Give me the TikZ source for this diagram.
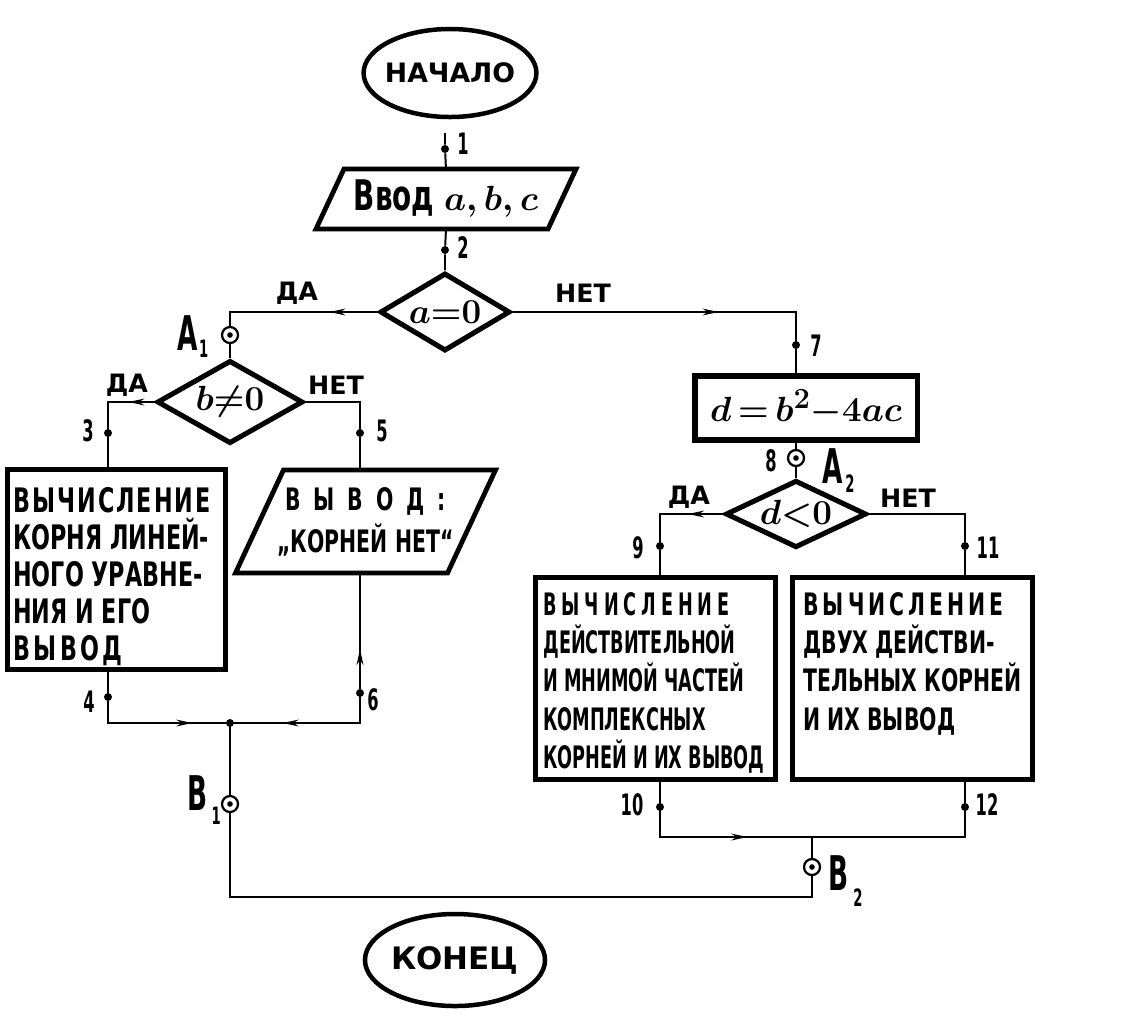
\documentclass[tikz,border=0pt]{standalone}
\usepackage{fontspec}
\setmainfont{DejaVu Sans}[FakeStretch=0.66]
\newfontfamily\widefont{DejaVu Sans}
\newfontfamily\condfont{DejaVu Sans}[FakeStretch=0.57]
\newfontfamily\narrowfont{DejaVu Sans}[FakeStretch=0.55]
\usetikzlibrary{arrows.meta,calc,positioning,shapes.geometric,decorations.markings}
\newcommand{\jsub}[3]{\kern#1pt\raisebox{-#2pt}{\fontsize{17}{17}\selectfont #3}}
\newcommand{\spaced}[2]{{\addfontfeatures{LetterSpace=#1}#2}}
\tikzset{
  flowtip/.tip={Stealth[length=4mm,width=1.7mm]},
  wire/.style={line width=1.4pt},
  fwd/.style={postaction={decorate},decoration={markings,mark=at position #1 with {\arrow{flowtip}}}},
  bwd/.style={postaction={decorate},decoration={markings,mark=at position #1 with {\arrowreversed{flowtip}}}},
  terminal/.style={ellipse, draw, line width=3.2pt, inner sep=0pt, font=\widefont\bfseries\fontsize{19}{19}\selectfont},
  iobox/.style={rectangle, inner sep=0pt, outer sep=0pt},
  ioline/.style={line width=3.4pt, line join=miter},
  decision/.style={diamond, aspect=1.8, draw, line width=3.6pt, inner sep=0pt, font=\fontsize{28}{28}\selectfont\boldmath},
  procbox/.style={rectangle, draw, line width=3.6pt, inner sep=0pt},
  boxtext/.style={align=left, inner sep=0pt},
  flowdot/.style={circle, fill, minimum size=0.2cm, inner sep=0pt},
  joint/.style={circle, draw, line width=1.6pt, minimum size=0.4cm, inner sep=0pt,
    path picture={\fill (path picture bounding box.center) circle (0.07cm);}},
  num/.style={font=\narrowfont\bfseries\fontsize{21}{21}\selectfont, inner sep=0pt},
  yesno/.style={font=\widefont\bfseries\fontsize{18}{18}\selectfont, inner sep=0pt},
  jlabel/.style={font=\narrowfont\bfseries\fontsize{34}{34}\selectfont, inner sep=0pt}
}
\begin{document}
\begin{tikzpicture}[x=0.025cm,y=-0.025cm]
\fill[white] (0,0) rectangle (1122,1015);
\useasboundingbox (0,0) rectangle (1122,1015);

% start and end
\node[terminal, inner xsep=-0.1cm, minimum width=4.0cm, minimum height=2.2cm] (start) at (450,73) {НАЧАЛО};
\node[terminal, minimum width=4.15cm, minimum height=2.3cm, font=\widefont\bfseries\fontsize{22}{22}\selectfont] (stop) at (455,960) {КОНЕЦ};

% main column
\coordinate (s1) at (445,133);
\node[flowdot] (d1) at (445,149) {};
\node[iobox, minimum width=5.8cm, minimum height=1.5cm, font=\bfseries\fontsize{30}{30}\selectfont\boldmath] (input) at (446,199) {Ввод $a,b,c$};
\draw[ioline] ($(input.north west)+(14,0)$) -- ($(input.north east)+(14,0)$)
  -- ($(input.south east)+(-14,0)$) -- ($(input.south west)+(-14,0)$) -- cycle;
\node[flowdot] (d2) at (445,250) {};
\node[decision, minimum width=3.25cm, minimum height=1.95cm] (a0) at (445,312) {$a{=}0$};

% linear equation
\node[joint] (A1) at (230,335) {};
\node[decision, minimum width=3.65cm, minimum height=2.08cm] (b0) at (230,402) {$b{\neq}0$};
\node[flowdot] (d3) at (108,433) {};
\node[flowdot] (d5) at (360,433) {};
\node[procbox, minimum width=5.45cm, minimum height=5.0cm] (lbox) at (116.5,569.5) {};
\node[boxtext, anchor=north west, font=\bfseries\fontsize{24}{26.3}\selectfont] (ltext) at (13,487)
  {\spaced{6}{ВЫЧИСЛЕНИЕ}\\КОРНЯ ЛИНЕЙ-\\НОГО УРАВНЕ-\\НИЯ И ЕГО\\\spaced{10}{ВЫВОД}};
\node[iobox, minimum width=5.3cm, minimum height=2.575cm, align=center, font=\bfseries\fontsize{22}{30}\selectfont] (pout) at (365.5,521.5)
  {\spaced{42}{ВЫВОД:}\\„КОРНЕЙ НЕТ“};
\draw[ioline] ($(pout.north west)+(24,0)$) -- ($(pout.north east)+(24,0)$)
  -- ($(pout.south east)+(-24,0)$) -- ($(pout.south west)+(-24,0)$) -- cycle;
\node[flowdot] (d4) at (108,697) {};
\node[flowdot] (d6) at (360,693) {};
\node[flowdot] (j1) at (230,723) {};
\node[joint] (B1) at (230,804) {};

% quadratic equation
\node[flowdot] (d7) at (796,345) {};
\node[procbox, minimum width=5.55cm, minimum height=1.6cm, font=\fontsize{30}{30}\selectfont\boldmath] (dbox) at (806,408) {$d\,{=}\,b^2{-}4ac$};
\node[joint] (A2) at (796,458) {};
\node[decision, minimum width=3.52cm, minimum height=1.68cm] (d0) at (796,514) {$d{<}0$};
\node[flowdot] (d9) at (660,546) {};
\node[flowdot] (d11) at (965,546) {};
\node[procbox, minimum width=6.0cm, minimum height=5.05cm] (cbox) at (655.5,678.5) {};
\node[boxtext, anchor=north west, font=\condfont\bfseries\fontsize{22}{27.2}\selectfont] (ctext) at (543,592)
  {\spaced{16}{ВЫЧИСЛЕНИЕ}\\ДЕЙСТВИТЕЛЬНОЙ\\И МНИМОЙ ЧАСТЕЙ\\КОМПЛЕКСНЫХ\\КОРНЕЙ И ИХ ВЫВОД};
\node[procbox, minimum width=6.0cm, minimum height=5.05cm] (rbox) at (912.5,678.5) {};
\node[boxtext, anchor=north west, font=\bfseries\fontsize{22}{27.2}\selectfont] (rtext) at (803,592)
  {\spaced{13}{ВЫЧИСЛЕНИЕ}\\ДВУХ ДЕЙСТВИ-\\ТЕЛЬНЫХ КОРНЕЙ\\И ИХ ВЫВОД};
\node[flowdot] (d10) at (660,807) {};
\node[flowdot] (d12) at (965,807) {};
\coordinate (j2) at (812,837);
\node[joint] (B2) at (812,867) {};
\coordinate (low) at (520,897);

% connectors
\draw[wire] (s1) -- (d1) -- (input.north);
\draw[wire] (input.south) -- (d2) -- (a0.north);
\draw[wire, fwd=1.2cm] (a0.west) -| (A1);
\draw[wire] (A1) -- (b0.north);
\draw[wire, fwd=0.65cm] (b0.west) -| (d3);
\draw[wire] (d3) -- (d3 |- lbox.north);
\draw[wire] (b0.east) -| (d5);
\draw[wire] (d5) -- (d5 |- pout.north);
\draw[wire] (lbox.south -| d4) -- (d4);
\draw[wire, fwd=2.65cm] (d4) |- (j1);
\draw[wire, bwd=1.9cm] (pout.south -| d6) -- (d6);
\draw[wire, fwd=2.575cm] (d6) |- (j1);
\draw[wire] (j1) -- (B1);
\draw[wire] (B1) |- (low) -| (B2);
\draw[wire, fwd=5.15cm] (a0.east) -| (d7);
\draw[wire] (d7) -- (d7 |- dbox.north);
\draw[wire] (dbox.south -| A2) -- (A2) -- (d0.north);
\draw[wire, fwd=0.875cm] (d0.west) -| (d9);
\draw[wire] (d9) -- (d9 |- cbox.north);
\draw[wire] (d0.east) -| (d11);
\draw[wire] (d11) -- (d11 |- rbox.north);
\draw[wire] (cbox.south -| d10) -- (d10);
\draw[wire, fwd=2.825cm] (d10) |- (j2);
\draw[wire] (rbox.south -| d12) -- (d12) |- (j2);
\draw[wire] (j2) -- (B2);

% point numbers
\node[num] (n1) at (463,144) {1};
\node[num] (n2) at (463,248) {2};
\node[num] (n3) at (88,431) {3};
\node[num] (n4) at (89,702) {4};
\node[num] (n5) at (382,431) {5};
\node[num] (n6) at (373,700) {6};
\node[num] (n7) at (816,346) {7};
\node[num] (n8) at (771,461) {8};
\node[num] (n9) at (638,548) {9};
\node[num] (n10) at (632,805) {10};
\node[num] (n11) at (988,548) {11};
\node[num] (n12) at (987,805) {12};

% branch labels
\node[yesno] (ya) at (297,293) {ДА};
\node[yesno] (na) at (583,293) {НЕТ};
\node[yesno] (yb) at (127,385) {ДА};
\node[yesno] (nb) at (336,385) {НЕТ};
\node[yesno] (yd) at (689,497) {ДА};
\node[yesno] (nd) at (908,498) {НЕТ};

% connector labels
\node[jlabel, anchor=base west] (A1lbl) at (177,350) {A\jsub{1}{5}{1}};
\node[jlabel, anchor=base west] (A2lbl) at (822,483) {A\jsub{2}{7}{2}};
\node[jlabel, anchor=base west] (B1lbl) at (187,810) {B\jsub{3}{10}{1}};
\node[jlabel, anchor=base west] (B2lbl) at (828,890) {B\jsub{3.5}{12}{2}};
\end{tikzpicture}
\end{document}
